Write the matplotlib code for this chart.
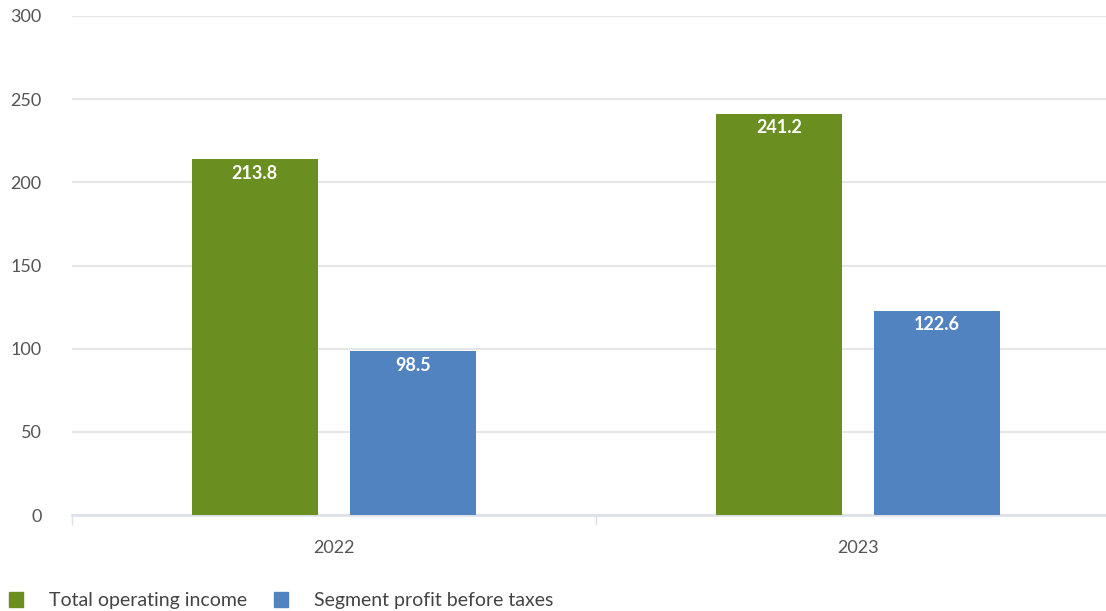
import numpy as np
import matplotlib.pyplot as plt
from matplotlib.patches import Patch

years = ["2022", "2023"]
operating_income = [213.8, 241.2]
segment_profit = [98.5, 122.6]
series_names = ["Total operating income", "Segment profit before taxes"]
colors = ["#6a8e1f", "#5283c1"]

plt.rcParams["font.family"] = ["Lato", "DejaVu Sans"]

fig = plt.figure(figsize=(11.06, 6.11), dpi=100)
ax = fig.add_axes([72 / 1106, 1 - 515 / 611, 1 - 72 / 1106, (515 - 16) / 611])

x = np.arange(len(years))
width = 0.24
offset = 0.151

for vals, col, sign in [(operating_income, colors[0], -1), (segment_profit, colors[1], 1)]:
    bars = ax.bar(x + sign * offset, vals, width, color=col, zorder=3)
    for b, v in zip(bars, vals):
        ax.annotate(f"{v:.1f}", (b.get_x() + b.get_width() / 2, v),
                    xytext=(0, -10), textcoords="offset points",
                    ha="center", va="center", color="white",
                    fontsize=13, fontweight="bold", zorder=4)

ax.set_yticks(range(0, 301, 50))
ax.set_xticks(x)
ax.set_xticklabels(years)
ax.set_xticks([-0.5, 0.5, 1.5], minor=True)
ax.set_ylim(0, 300)
ax.set_xlim(-0.5, 1.5 - 14 / 524)

ax.grid(axis="y", color="#e6e6e6", linewidth=1.5, zorder=0)
for s in ["top", "right", "left"]:
    ax.spines[s].set_visible(False)
ax.spines["bottom"].set_color("#dde2ea")
ax.spines["bottom"].set_linewidth(2)

ax.tick_params(axis="y", length=0, pad=22, labelsize=13, labelcolor="#555555")
ax.tick_params(axis="x", which="major", length=0, pad=18, labelsize=13, labelcolor="#555555")
ax.tick_params(axis="x", which="minor", length=7, width=1, color="#dde2ea")

handles = [Patch(color=c) for c in colors]
fig.legend(handles, series_names, loc="lower left", bbox_to_anchor=(-0.008, -0.026),
           ncol=2, frameon=False, fontsize=14, labelcolor="#444444",
           handlelength=0.75, handleheight=0.75, handletextpad=1.3, columnspacing=1.4)

fig.savefig("out.png", dpi=100)
